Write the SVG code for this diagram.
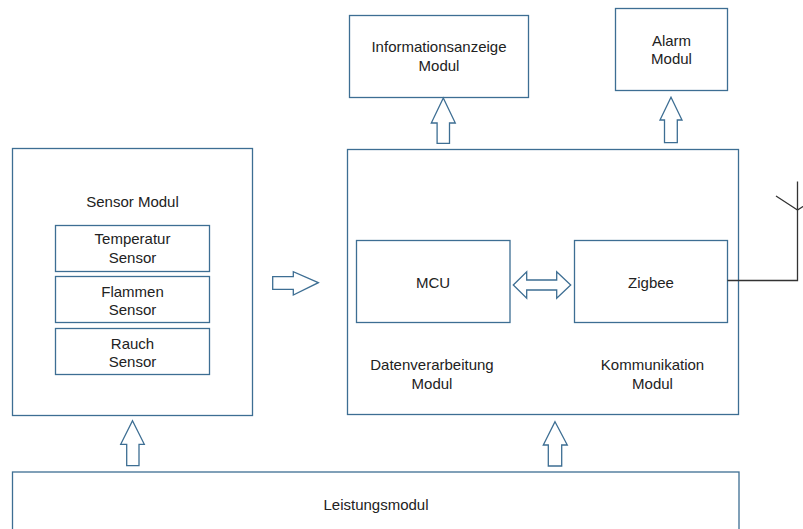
<svg xmlns="http://www.w3.org/2000/svg" width="803" height="529" viewBox="0 0 803 529">
  <style>
    .box { fill: #ffffff; stroke: #3d6e93; stroke-width: 1.3; }
    .blk { fill: #ffffff; stroke: #3d6e93; stroke-width: 1.3; stroke-linejoin: miter; }
    .wire { fill: none; stroke: #333333; stroke-width: 1.3; }
    text { font-family: "Liberation Sans", Arial, sans-serif; font-size: 15px; fill: #222222; text-anchor: middle; }
  </style>
  <rect x="0" y="0" width="803" height="529" fill="#ffffff"/>

  <!-- Power supply bar along the bottom -->
  <g id="leistungsmodul">
    <rect class="box" x="12.5" y="472" width="726.5" height="70"/>
    <text x="376" y="510">Leistungsmodul</text>
  </g>

  <!-- Sensor module with its three sensors -->
  <g id="sensor-modul">
    <rect class="box" x="12.5" y="148.5" width="240" height="267"/>
    <text x="132.5" y="206.5">Sensor Modul</text>
  </g>
  <g id="temperatur-sensor">
    <rect class="box" x="55.5" y="225.5" width="154" height="46"/>
    <text x="132.5" y="244">Temperatur</text>
    <text x="132.5" y="262.5">Sensor</text>
  </g>
  <g id="flammen-sensor">
    <rect class="box" x="55.5" y="276.5" width="154" height="46"/>
    <text x="132.5" y="296.5">Flammen</text>
    <text x="132.5" y="314.5">Sensor</text>
  </g>
  <g id="rauch-sensor">
    <rect class="box" x="55.5" y="328.5" width="154" height="46"/>
    <text x="132.5" y="348.5">Rauch</text>
    <text x="132.5" y="366.5">Sensor</text>
  </g>

  <!-- Main processing / communication block -->
  <g id="hauptmodul">
    <rect class="box" x="347.5" y="149.5" width="391" height="265"/>
    <text x="432" y="370">Datenverarbeitung</text>
    <text x="432" y="388.5">Modul</text>
    <text x="652.5" y="370">Kommunikation</text>
    <text x="652.5" y="388.5">Modul</text>
  </g>
  <g id="mcu">
    <rect class="box" x="356.5" y="240.5" width="153.5" height="82"/>
    <text x="433" y="287.5">MCU</text>
  </g>
  <g id="zigbee">
    <rect class="box" x="574.5" y="240.5" width="153" height="82"/>
    <text x="651" y="287.5">Zigbee</text>
  </g>

  <!-- Output modules -->
  <g id="informationsanzeige">
    <rect class="box" x="349.5" y="15.5" width="179" height="82"/>
    <text x="439" y="52">Informationsanzeige</text>
    <text x="439" y="71">Modul</text>
  </g>
  <g id="alarm">
    <rect class="box" x="615.5" y="8.5" width="112" height="82"/>
    <text x="671.5" y="46">Alarm</text>
    <text x="671.5" y="63.5">Modul</text>
  </g>

  <!-- Connectors: block arrows and antenna wire -->
  <g id="connectors">
    <!-- main block -> information display -->
    <polygon class="blk" points="443.3,98 455.3,123 449.5,123 449.5,143.3 437.1,143.3 437.1,123 431.3,123"/>
    <!-- main block -> alarm -->
    <polygon class="blk" points="671,97.3 682,120 677.3,120 677.3,142.7 664.5,142.7 664.5,120 660,120"/>
    <!-- power -> sensor module -->
    <polygon class="blk" points="132.5,420.7 144.3,444.3 139,444.3 139,465.7 126.7,465.7 126.7,444.3 120.7,444.3"/>
    <!-- power -> main block -->
    <polygon class="blk" points="555,421.7 567.3,445 561.7,445 561.7,466 548.3,466 548.3,445 543.3,445"/>
    <!-- sensor module -> main block -->
    <polygon class="blk" points="318.3,282.7 293.3,271.7 293.3,276.7 272.7,276.7 272.7,289.3 293.3,289.3 293.3,295"/>
    <!-- MCU <-> Zigbee -->
    <polygon class="blk" points="513.3,285 526.7,271.7 526.7,280 556.7,280 556.7,271.7 570.7,285 556.7,298.3 556.7,290 526.7,290 526.7,298.3"/>
    <!-- Zigbee antenna -->
    <polyline class="wire" points="727.5,280.5 797.5,280.5 797.5,181.5"/>
    <polyline class="wire" points="776,196 797.5,210 819,196"/>
  </g>
</svg>
